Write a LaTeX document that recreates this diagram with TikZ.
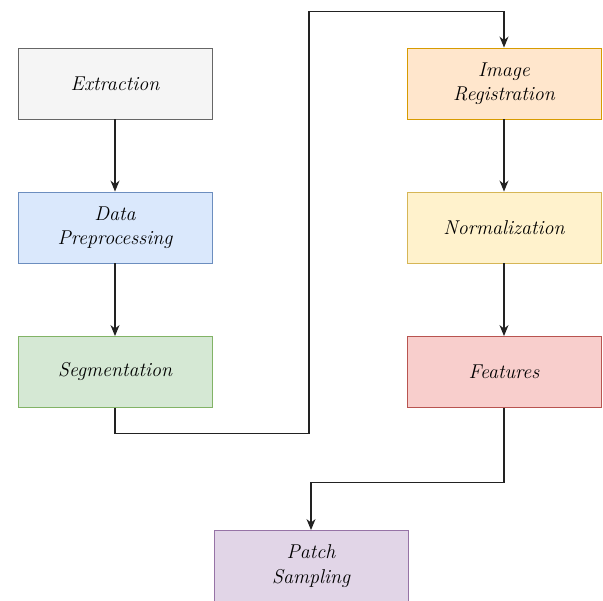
\documentclass[tikz,border=0pt]{standalone}
\usetikzlibrary{arrows.meta}
\definecolor{gfill}{HTML}{F5F5F5}\definecolor{gline}{HTML}{666666}
\definecolor{bfill}{HTML}{DAE8FC}\definecolor{bline}{HTML}{6C8EBF}
\definecolor{grfill}{HTML}{D5E8D4}\definecolor{grline}{HTML}{82B366}
\definecolor{ofill}{HTML}{FFE6CC}\definecolor{oline}{HTML}{D79B00}
\definecolor{yfill}{HTML}{FFF2CC}\definecolor{yline}{HTML}{D6B656}
\definecolor{rfill}{HTML}{F8CECC}\definecolor{rline}{HTML}{B85450}
\definecolor{pfill}{HTML}{E1D5E7}\definecolor{pline}{HTML}{9673A6}
\definecolor{arr}{HTML}{222222}
\begin{document}
\begin{tikzpicture}[x=1pt,y=-1pt,
  stepbox/.style={rectangle, minimum width=194pt, minimum height=71pt, line width=0.9pt,
    align=center, font=\fontsize{20}{24.5}\selectfont\itshape, inner sep=0pt},
  conn/.style={draw=arr, line width=1.1pt, -{Stealth[length=11pt,width=9pt]}}]
\useasboundingbox (0,0) rectangle (603,601);
\node[stepbox, fill=gfill, draw=gline] (ext) at (115,83.5) {Extraction};
\node[stepbox, fill=bfill, draw=bline] (dat) at (115,227.5) {Data\\Preprocessing};
\node[stepbox, fill=grfill, draw=grline] (seg) at (115,372) {Segmentation};
\node[stepbox, fill=ofill, draw=oline] (reg) at (504,83.5) {Image\\Registration};
\node[stepbox, fill=yfill, draw=yline] (nor) at (504,227.5) {Normalization};
\node[stepbox, fill=rfill, draw=rline] (fea) at (504,372) {Features};
\node[stepbox, fill=pfill, draw=pline] (pat) at (311,566) {Patch\\Sampling};
\coordinate (c1) at (115,433.5);
\coordinate (c2) at (309,433.5);
\coordinate (c3) at (309,11.5);
\coordinate (c4) at (504,11.5);
\coordinate (d1) at (504,482.5);
\coordinate (d2) at (311,482.5);
\draw[conn] (ext) -- (dat);
\draw[conn] (dat) -- (seg);
\draw[conn] (reg) -- (nor);
\draw[conn] (nor) -- (fea);
\draw[conn] (seg.south) -- (c1) -- (c2) -- (c3) -- (c4) -- (reg.north);
\draw[conn] (fea.south) -- (d1) -- (d2) -- (pat.north);
\end{tikzpicture}
\end{document}
